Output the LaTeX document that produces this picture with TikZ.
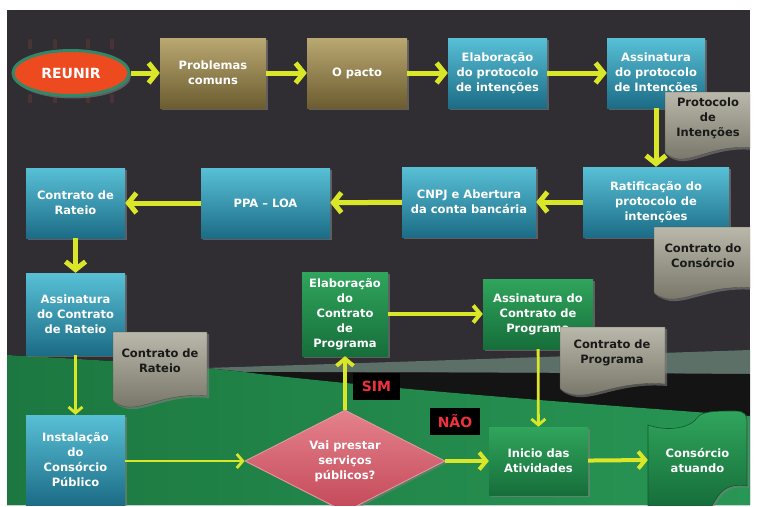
\documentclass[tikz,border=0pt]{standalone}
\usepackage{fontspec}
\setmainfont{DejaVu Sans}
\usetikzlibrary{arrows.meta,shapes.geometric,shadows}
\definecolor{bgdark}{RGB}{48,45,51}
\definecolor{greenbgL}{RGB}{28,120,64}
\definecolor{greenbgR}{RGB}{40,150,85}
\definecolor{bandgray}{RGB}{92,112,104}
\definecolor{goldtop}{RGB}{186,168,114}
\definecolor{goldbot}{RGB}{108,93,48}
\definecolor{tealtop}{RGB}{88,192,214}
\definecolor{tealbot}{RGB}{28,108,134}
\definecolor{grntop}{RGB}{48,165,92}
\definecolor{grnbot}{RGB}{22,110,58}
\definecolor{doctop}{RGB}{186,184,170}
\definecolor{docbot}{RGB}{116,115,102}
\definecolor{diatop}{RGB}{228,130,140}
\definecolor{diabot}{RGB}{196,72,88}
\definecolor{arrowc}{RGB}{218,230,40}
\definecolor{reunirc}{RGB}{238,74,32}
\definecolor{reunirb}{RGB}{50,135,105}
\definecolor{chairc}{RGB}{92,58,58}
\definecolor{labred}{RGB}{240,50,62}
\newcommand\mydoc[4]{%
  \path[docstyle] (#1,#2) -- (#3,#2) -- (#3,{#4-9})
    .. controls ({0.45*#1+0.55*#3},{#4-13}) and ({0.7*#1+0.3*#3},{#4+7}) .. ({0.9*#1+0.1*#3},{#4+1})
    .. controls ({0.96*#1+0.04*#3},{#4-1}) and (#1,{#4-3}) .. (#1,{#4-5}) -- cycle;}
\tikzset{
  box/.style={rectangle, text=white, font=\fontsize{11.5}{15}\selectfont\bfseries, align=center, inner sep=2pt,
    drop shadow={opacity=0.6, shadow xshift=2pt, shadow yshift=-2pt}},
  goldbox/.style={box, top color=goldtop, bottom color=goldbot},
  tealbox/.style={box, top color=tealtop, bottom color=tealbot},
  grnbox/.style={box, top color=grntop, bottom color=grnbot},
  docstyle/.style={top color=doctop, bottom color=docbot, draw=docbot!70!black, line width=0.4pt,
    drop shadow={opacity=0.6, shadow xshift=2pt, shadow yshift=-2pt}},
  doctext/.style={text=black!90, font=\fontsize{11.5}{15}\selectfont\bfseries, align=center, inner sep=0pt},
  arr/.style={draw=arrowc, line width=5pt, -{Straight Barb[length=8pt,width=20pt]}},
  arrm/.style={draw=arrowc, line width=4pt, -{Straight Barb[length=7pt,width=17pt]}},
  arrs/.style={draw=arrowc, line width=2.8pt, -{Straight Barb[length=6pt,width=14pt]}},
  lab/.style={fill=black, text=labred, font=\fontsize{14}{16}\selectfont\bfseries, minimum width=48, minimum height=27, inner sep=0pt},
  chair/.style={fill=chairc, opacity=0.55, rounded corners=1pt}
}
\begin{document}
\begin{tikzpicture}[x=1pt,y=-1pt]
\useasboundingbox (0,0) rectangle (757,506);
\fill[white] (0,0) rectangle (757,506);
\begin{scope}
\clip (7,10) rectangle (750,505);
\fill[bgdark] (7,10) rectangle (750,505);
% band and black strip
\fill[bandgray] (205,368) .. controls (400,362) and (600,355) .. (750,350) -- (750,374) -- (600,373) -- (400,372) -- (205,372) -- cycle;
\fill[black!92] (240,372) -- (750,374) -- (750,416) .. controls (600,406) and (420,392) .. (300,380) -- cycle;
% green region
\fill[left color=greenbgL, right color=greenbgR] (7,355) .. controls (100,360) and (200,366) .. (260,374)
   .. controls (400,390) and (600,405) .. (750,416) -- (750,505) -- (7,505) -- cycle;

% chairs around REUNIR
\foreach \cx in {30,55,88,112} {
  \fill[chair] (\cx-2,39) rectangle (\cx+2,49);
  \fill[chair] (\cx-2,94) rectangle (\cx+2,103);
}
% nodes
\node[ellipse, fill=reunirc, draw=reunirb, line width=3pt, minimum width=116, minimum height=45, text=white,
  font=\fontsize{14}{16}\selectfont\bfseries, drop shadow={opacity=0.6, shadow xshift=2pt, shadow yshift=-3pt}] (reunir) at (71,73) {REUNIR};
\node[goldbox, minimum width=106, minimum height=70] (prob) at (213,73) {Problemas\\comuns};
\node[goldbox, minimum width=100, minimum height=70] (pacto) at (357,73) {O pacto};
\node[tealbox, minimum width=99, minimum height=70] (elab) at (497.5,73) {Elaboração\\do protocolo\\de intenções};
\node[tealbox, minimum width=98, minimum height=70] (assin) at (656,73) {Assinatura\\do protocolo\\de Intenções};
\node[tealbox, minimum width=146, minimum height=70] (ratif) at (656,202) {Ratificação do\\protocolo de\\intenções};
\node[tealbox, minimum width=134, minimum height=70] (cnpj) at (469,202) {CNPJ e Abertura\\da conta bancária};
\node[tealbox, minimum width=129, minimum height=70] (ppa) at (265.5,203) {PPA – LOA};
\node[tealbox, minimum width=99, minimum height=70] (crat) at (75.5,203) {Contrato de\\Rateio};
\node[tealbox, minimum width=99, minimum height=82] (acrat) at (75.5,314) {Assinatura\\do Contrato\\de Rateio};
\node[tealbox, minimum width=99, minimum height=90] (inst) at (75.5,460) {Instalação\\do\\Consórcio\\Público};
\node[diamond, aspect=2, minimum width=200, minimum height=102, inner sep=0pt, top color=diatop, bottom color=diabot,
  draw=diatop!80!white, line width=0.8pt, text=white, font=\fontsize{11.5}{15}\selectfont\bfseries, align=center,
  drop shadow={opacity=0.5, shadow xshift=2pt, shadow yshift=-2pt}] (dia) at (345,461) {Vai prestar\\serviços\\públicos?};
\node[grnbox, minimum width=86, minimum height=84] (ecp) at (345,314) {Elaboração\\do\\Contrato\\de\\Programa};
\node[grnbox, minimum width=110, minimum height=70] (acp) at (538,314) {Assinatura do\\Contrato de\\Programa};
\node[grnbox, minimum width=99, minimum height=68] (inicio) at (538.5,461) {Inicio das\\Atividades};
% puzzle piece
\path[top color=grntop, bottom color=grnbot, draw=grnbot!80!black, line width=0.6pt,
  drop shadow={opacity=0.5, shadow xshift=2pt, shadow yshift=-2pt}]
  (648,506) -- (648,425) .. controls (668,432) and (690,428) .. (697,418)
  .. controls (702,411) and (715,411) .. (735,411) .. controls (745,411) and (747,415) .. (747,422)
  -- (747,486) .. controls (735,484) and (725,486) .. (718,496) .. controls (714,502) and (712,505) .. (712,506) -- cycle;
\node[text=white, font=\fontsize{11.5}{15}\selectfont\bfseries, align=center, minimum width=99, minimum height=60, inner sep=0pt] (atuando) at (697.5,460) {Consórcio\\atuando};

% arrows
\draw[arr] (reunir) -- (prob);
\draw[arr] (prob) -- (pacto);
\draw[arr] (pacto) -- (elab);
\draw[arr] (elab) -- (assin);
\draw[arr] (assin) -- (ratif);
\draw[arr] (ratif) -- (cnpj);
\draw[arr] (cnpj) -- (ppa);
\draw[arr] (ppa) -- (crat);
\draw[arr] (crat) -- (acrat);
\draw[arrs] (acrat) -- (inst);
\draw[arrs] (inst.east |- dia.west) -- (dia.west);
\draw[arrm] (dia.north) -- (ecp.south);
\draw[arrm] (ecp) -- (acp);
\draw[arrs] (acp) -- (inicio);
\draw[arrm] (dia.east) -- (inicio.west);
\draw[arrm] (inicio) -- (atuando.west);

% documents
\mydoc{665}{92}{752}{157}
\node[doctext] (protdoc) at (708,118) {Protocolo\\de\\Intenções};
\mydoc{654}{227}{753}{297}
\node[doctext] (consdoc) at (703,256) {Contrato do\\Consórcio};
\mydoc{113}{332}{207}{405}
\node[doctext] (ratdoc) at (160,361) {Contrato de\\Rateio};
\mydoc{560}{327}{665}{393}
\node[doctext] (progdoc) at (612,353) {Contrato de\\Programa};

% labels
\node[lab, minimum width=47] (sim) at (376.5,386.5) {SIM};
\node[lab, minimum width=50] (nao) at (455,421.5) {NÃO};
\end{scope}
\end{tikzpicture}
\end{document}
